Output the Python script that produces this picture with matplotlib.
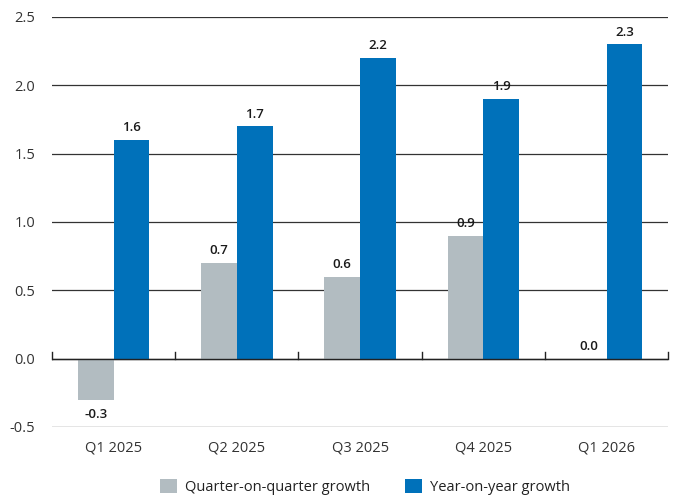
import matplotlib
matplotlib.use("Agg")
import matplotlib.pyplot as plt
import numpy as np

categories = ["Q1 2025", "Q2 2025", "Q3 2025", "Q4 2025", "Q1 2026"]
qoq = [-0.3, 0.7, 0.6, 0.9, 0.0]
yoy = [1.6, 1.7, 2.2, 1.9, 2.3]
series_names = ["Quarter-on-quarter growth", "Year-on-year growth"]
yticks = [-0.5, 0.0, 0.5, 1.0, 1.5, 2.0, 2.5]

plt.rcParams['font.family'] = ['Open Sans', 'DejaVu Sans']

gray = "#B2BCC1"
blue = "#0071BA"

fig = plt.figure(figsize=(6.75, 4.98), dpi=100)
ax = fig.add_axes([0.077, 0.1426, 0.913, 0.8234])

x = np.arange(len(categories))
w = 0.29
b1 = ax.bar(x - w/2, qoq, w, color=gray, label=series_names[0], zorder=3)
b2 = ax.bar(x + w/2, yoy, w, color=blue, label=series_names[1], zorder=3)

lab_kw = dict(fontsize=9.5, fontweight="semibold", color="#1a1a1a")
for xi, v in zip(x - w/2, qoq):
    if v < 0:
        ax.annotate(f"{v:.1f}", (xi, v), xytext=(0, -6), textcoords="offset points",
                    ha="center", va="top", **lab_kw)
    else:
        ax.annotate(f"{v:.1f}", (xi, v), xytext=(0, 4), textcoords="offset points",
                    ha="center", va="bottom", **lab_kw)
for xi, v in zip(x + w/2, yoy):
    ax.annotate(f"{v:.1f}", (xi, v), xytext=(0, 4), textcoords="offset points",
                ha="center", va="bottom", **lab_kw)

ax.set_xlim(-0.5, len(categories) - 0.5)
ax.set_ylim(-0.5, 2.5)
ax.set_yticks(yticks)
ax.set_yticklabels([f"{t:.1f}" for t in yticks])
ax.yaxis.grid(True, color="#333333", linewidth=0.9, zorder=0)
ax.axhline(0, color="#222222", linewidth=1.0, zorder=4)
for b in np.arange(-0.5, len(categories), 1.0):
    ax.plot([b, b], [0, 0.045], color="#222222", linewidth=1.0, zorder=4, clip_on=False)

ax.set_xticks(x)
ax.set_xticklabels(categories)
ax.tick_params(axis="both", length=0, labelsize=10.5, colors="#333333")
ax.tick_params(axis="x", pad=10)
ax.tick_params(axis="y", pad=12)
for s in ax.spines.values():
    s.set_visible(False)

fig.legend(handles=[b1, b2], labels=series_names, loc="lower center",
           bbox_to_anchor=(0.541, -0.02), ncol=2, frameon=False, fontsize=10.5,
           handlelength=1.15, handleheight=1.15, columnspacing=2.4, handletextpad=0.55,
           labelcolor="#222222")

fig.savefig("out.png", dpi=100)
